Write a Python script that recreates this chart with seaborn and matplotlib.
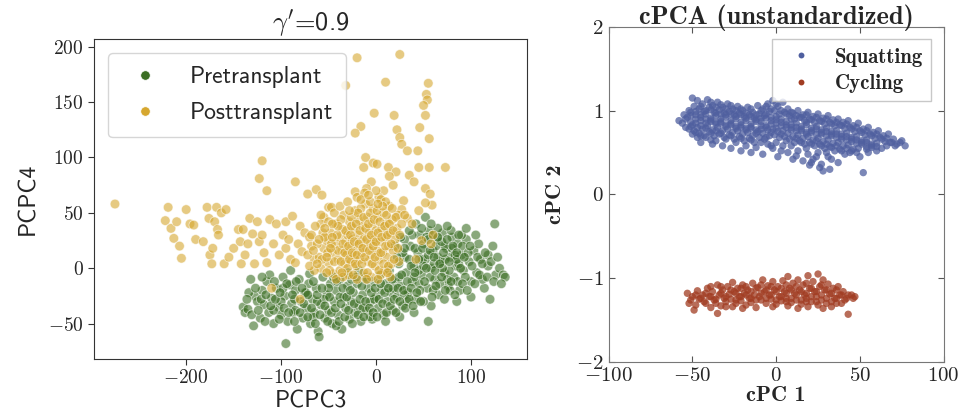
import numpy as np
import pandas as pd
import seaborn as sns
import matplotlib.pyplot as plt

# ---- data ----
# left panel: (PCPC3, PCPC4)
pre_pts = [
    (-140, -35), (-138, -40), (-135, -37), (-132, -10), (-128, -25), (-125, -30), (-122, -45), (-120, -20),
    (-118, -33), (-115, -12), (-113, -40), (-110, -27), (-108, -50), (-105, -18), (-103, -35), (-100, -42),
    (-98, -8), (-96, -25), (-95, -68), (-93, -48), (-91, -15), (-89, -32), (-87, -40), (-85, -20),
    (-83, -55), (-81, -10), (-79, -30), (-77, -45), (-75, -22), (-73, -36), (-71, -14), (-69, -50),
    (-67, -28), (-65, -40), (-63, -18), (-61, -57), (-60, -62), (-58, -33), (-56, -8), (-54, -45),
    (-52, -24), (-50, -38), (-48, -14), (-46, -50), (-44, -30), (-42, -20), (-40, -42), (-38, -10),
    (-36, -55), (-34, -26), (-32, -36), (-30, -16), (-28, -46), (-26, -30), (-24, -22), (-22, -40),
    (-20, -14), (-18, -34), (-16, -48), (-14, -24), (-12, -8), (-10, -38), (-8, -18), (-6, -30),
    (-4, -46), (-2, -12), (0, -26), (2, -36), (4, -6), (6, -20), (8, -42), (10, -14),
    (12, -30), (14, -2), (16, -22), (18, -38), (20, -10), (22, -26), (24, 4), (26, -16),
    (28, -34), (30, 10), (32, -4), (34, -22), (36, 20), (38, -12), (40, 2), (42, -28),
    (44, 14), (46, 30), (48, -6), (50, 22), (52, 8), (54, -18), (56, 34), (58, 0),
    (60, 16), (62, -10), (64, 26), (66, -24), (68, 6), (70, 32), (72, -4), (74, 18),
    (76, -16), (78, 10), (80, 28), (82, -8), (84, 2), (86, 22), (88, -20), (90, 12),
    (92, -2), (95, 26), (98, 6), (100, -12), (103, 16), (106, -4), (110, 8), (114, -18),
    (118, 2), (120, -28), (123, 20), (126, -6), (130, 0), (134, -6), (136, -8), (125, 40),
    (118, 12), (108, 22), (112, -10), (-129, -52), (-112, -6), (-90, -2), (-70, -5), (-100, -30),
    (-85, -38), (-66, -44), (-55, -28), (-42, -52), (-30, -4), (-18, -2), (-6, -44), (10, -48),
    (25, -44), (40, -40), (58, -34), (72, -28), (85, -30), (100, -26), (55, -48), (30, -24),
    (45, -14), (60, -20), (75, -10), (50, -30), (65, 10), (80, 18), (35, 8), (38, 30),
    (42, 40), (52, 46), (30, 26), (60, 30), (72, 20), (90, 30), (86, -12), (18, -18),
    (-2, -28), (-14, -36), (-26, -10), (-38, -26), (-50, -18), (-62, -30), (-74, -22), (-86, -28),
    (-98, -18), (-108, -38), (-120, -8), (-134, -22), (24, -8), (28, 14), (33, -30), (37, 2),
    (41, 18), (46, -20), (49, 8), (53, 28), (57, -8), (61, 4), (63, 20), (67, -14),
    (69, 24), (73, 8), (77, -2), (79, 34), (83, 12), (87, 4), (91, 20), (94, -8),
    (97, 14), (65, 36), (45, -2), (55, 12), (70, 0), (85, 8), (40, -8), (50, 2),
    (62, -2), (78, -20),
    (-136, -28), (-131, -42), (-127, -18), (-124, -38), (-121, -28), (-117, -48), (-116, -24), (-111, -34),
    (-107, -12), (-106, -28), (-102, -46), (-101, -22), (-97, -36), (-94, -14), (-92, -40), (-88, -24),
    (-86, -48), (-84, -12), (-80, -40), (-78, -18), (-76, -32), (-72, -44), (-72, -24), (-68, -36),
    (-66, -12), (-64, -50), (-62, -24), (-59, -42), (-57, -18), (-54, -34), (-51, -48), (-49, -26),
    (-47, -40), (-45, -8), (-43, -36), (-41, -12), (-39, -48), (-37, -32), (-35, -18), (-33, -44),
    (-31, -26), (-29, -38), (-27, -20), (-25, -50), (-23, -32), (-21, -8), (-19, -42), (-17, -28),
    (-15, -16), (-13, -44), (-11, -30), (-9, -10), (-7, -36), (-5, -22), (-3, -40), (-1, -18),
    (1, -44), (3, -28), (5, -14), (7, -32), (9, -22), (11, -40), (13, -18), (15, -34),
    (17, -10), (19, -28), (21, -40), (23, -18), (25, -30), (27, -6), (29, -20), (31, -36),
    (33, -12), (35, -28), (37, -18), (39, -34), (41, -4), (43, -22), (45, 8), (47, -30),
    (49, 18), (51, -12), (53, 0), (55, 26), (57, 16), (59, -26), (61, 10), (63, -16),
    (65, 28), (67, 4), (69, -8), (71, 14), (73, -20), (75, 26), (77, 6), (79, -12),
    (81, 20), (83, -24), (85, 14), (87, 30), (89, 0), (91, -14), (93, 10), (96, -20),
    (99, 20), (101, 2), (104, -14), (107, 10), (109, -6), (112, 4), (115, 14), (117, -8),
    (121, 6), (124, -12), (128, 10), (132, -14), (105, 30), (95, 36), (75, 38), (58, 40),
    (48, 36), (35, 34), (30, 18), (26, 28), (22, 10), (20, 20),
]

post_pts = [
    (-275, 58), (-222, 43), (-219, 55), (-216, 36), (-213, 27), (-210, 42), (-207, 20), (-205, 9),
    (-200, 53), (-196, 40), (-192, 39), (-190, 26), (-182, 24), (-178, 55), (-176, 45), (-175, 12),
    (-173, 4), (-172, 18), (-170, 42), (-168, 55), (-167, 35), (-166, 30), (-163, 50), (-160, 4),
    (-158, 53), (-155, 10), (-150, 18), (-145, 35), (-143, 24), (-142, 4), (-140, 35), (-138, 12),
    (-135, 22), (-133, 45), (-130, 31), (-128, 4), (-125, 42), (-123, 24), (-120, 30), (-118, 14),
    (-115, 5), (-112, 44), (-108, 22), (-105, 40), (-102, 12), (-98, 30), (-95, 18), (-92, 26),
    (-90, 8), (-120, 97), (-123, 81), (-115, 70), (-85, 78), (-72, 67), (-63, 71), (-57, 66),
    (-50, 55), (-47, 55), (-55, 46), (-58, 40), (-95, 42), (-88, 47), (-80, 38), (-75, 32),
    (-70, 28), (-82, 22), (-78, 15), (-68, 20), (-65, 8), (-85, 5), (-110, -18), (-80, -28),
    (-20, 190), (25, 193), (-32, 165), (10, 168), (55, 167), (53, 157), (54, 152), (50, 147),
    (52, 138), (-2, 140), (19, 138), (-16, 128), (-22, 122), (22, 125), (46, 127), (25, 118),
    (27, 112), (56, 117), (33, 106), (44, 106), (-11, 100), (-3, 95), (-13, 91), (1, 94),
    (13, 91), (21, 87), (45, 91), (56, 91), (73, 91), (35, 84), (40, 78), (52, 72),
    (57, 67), (59, 57), (29, 61), (45, 52), (52, 59), (14, 83), (18, 75), (8, 70),
    (-5, 78), (-22, 69), (-10, 72), (3, 64), (27, 53), (33, 45), (38, 40), (23, 48),
    (60, 30), (58, 22), (42, 8), (48, 25),
    (-60, 10), (-58, 0), (-55, 18), (-52, 25), (-50, 5), (-48, 32), (-46, 14), (-45, -5),
    (-43, 22), (-42, 40), (-40, 8), (-39, 28), (-38, -2), (-36, 16), (-35, 35), (-34, 48),
    (-33, 4), (-32, 24), (-31, 12), (-30, 30), (-29, -6), (-28, 42), (-27, 18), (-26, 6),
    (-25, 26), (-24, 36), (-23, 12), (-22, 52), (-21, 2), (-20, 20), (-19, 30), (-18, 44),
    (-17, 8), (-16, 24), (-15, 14), (-14, 38), (-13, -4), (-12, 28), (-11, 58), (-10, 18),
    (-9, 46), (-8, 6), (-7, 32), (-6, 22), (-5, 12), (-4, 40), (-3, 54), (-2, 26),
    (-1, 2), (0, 34), (1, 16), (2, 46), (3, 8), (4, 24), (5, 62), (6, 36),
    (7, 14), (8, 50), (9, -2), (10, 28), (11, 40), (12, 10), (13, 20), (14, 56),
    (15, 32), (16, 4), (17, 44), (18, 16), (20, 26), (22, 36), (24, 6), (-44, 50),
    (-38, 56), (-30, 60), (-20, 64), (-12, 68), (0, 70), (-50, 42), (-56, 32), (-62, 22),
    (-65, -2), (-35, -8), (-20, -10), (-5, -8), (5, -6), (15, -8), (-26, 46), (-16, 54),
    (-6, 60), (10, 60), (-42, -10),
    (-57, 8), (-54, 28), (-51, 14), (-49, -2), (-47, 22), (-44, 6), (-41, 30), (-40, 16),
    (-37, 44), (-37, 6), (-35, 22), (-33, 14), (-32, 34), (-30, 0), (-29, 20), (-28, 8),
    (-27, 30), (-26, 38), (-25, 14), (-23, 24), (-22, 4), (-21, 40), (-20, 12), (-19, 50),
    (-18, 22), (-17, 34), (-15, 4), (-14, 18), (-13, 46), (-12, 10), (-11, 36), (-10, 26),
    (-9, -4), (-8, 40), (-7, 16), (-6, 50), (-5, 30), (-4, 4), (-3, 20), (-2, 44),
    (-1, 10), (0, 24), (1, 52), (2, 32), (3, -2), (4, 42), (5, 14), (6, 28),
    (7, 56), (8, 4), (9, 38), (10, 20), (11, 48), (12, 30), (13, 2), (14, 40),
    (16, 22), (17, 54), (18, 34), (19, 8), (21, 46), (23, 18), (25, 30), (27, 40),
    (30, 48), (-16, 62), (-8, 66), (2, 58), (-28, 52), (-40, 38), (-46, 40), (-52, -4),
    (-36, -4), (-24, -6), (-10, -10), (2, -10), (12, -4),
    (-72, 12), (-70, 2), (-68, 30), (-66, 16), (-64, 38), (-62, 4), (-60, 26), (-58, 48),
    (-54, 36), (-52, 10), (-48, 18), (-46, 28),
]

# right panel: (cPC 1, cPC 2)
squat_pts = [
    (-58, 0.88), (-55, 0.95), (-56, 0.85), (-54, 0.80),
    (-52, 1.00), (-53, 0.92), (-51, 0.86), (-52, 0.78), (-50, 0.72),
    (-50, 1.15), (-49, 1.05), (-51, 0.98), (-48, 0.90), (-50, 0.83), (-49, 0.76), (-47, 0.68),
    (-47, 1.12), (-46, 1.02), (-48, 0.95), (-45, 0.88), (-47, 0.80), (-46, 0.73), (-45, 0.62),
    (-44, 1.08), (-43, 0.99), (-45, 0.92), (-42, 0.85), (-44, 0.78), (-43, 0.70),
    (-41, 1.13), (-40, 1.04), (-42, 0.96), (-39, 0.89), (-41, 0.82), (-40, 0.75), (-39, 0.65),
    (-38, 1.06), (-37, 0.98), (-39, 0.91), (-36, 0.84), (-38, 0.77), (-37, 0.70), (-38, 0.60),
    (-35, 1.10), (-34, 1.01), (-36, 0.94), (-33, 0.87), (-35, 0.80), (-34, 0.72),
    (-32, 1.04), (-31, 0.97), (-33, 0.90), (-30, 0.83), (-32, 0.76), (-31, 0.68), (-32, 0.58),
    (-29, 1.08), (-28, 0.99), (-30, 0.92), (-27, 0.85), (-29, 0.78), (-28, 0.71),
    (-26, 1.02), (-25, 0.95), (-27, 0.88), (-24, 0.81), (-26, 0.74), (-25, 0.66), (-27, 0.55),
    (-23, 1.05), (-22, 0.97), (-24, 0.90), (-21, 0.83), (-23, 0.76), (-22, 0.69),
    (-20, 1.00), (-19, 0.93), (-21, 0.86), (-18, 0.79), (-20, 0.72), (-19, 0.64), (-21, 0.52),
    (-17, 1.04), (-16, 0.95), (-18, 0.88), (-15, 0.81), (-17, 0.74), (-16, 0.67),
    (-14, 0.98), (-13, 0.91), (-15, 0.84), (-12, 0.77), (-14, 0.70), (-13, 0.62), (-15, 0.50),
    (-11, 1.06), (-10, 0.96), (-12, 0.89), (-9, 0.82), (-11, 0.75), (-10, 0.68),
    (-8, 1.02), (-7, 0.94), (-9, 0.87), (-6, 0.80), (-8, 0.73), (-7, 0.66), (-8, 0.48),
    (-5, 1.08), (-4, 0.99), (-6, 0.91), (-3, 0.84), (-5, 0.77), (-4, 0.70), (-5, 0.60),
    (-2, 1.12), (-1, 1.00), (-3, 0.92), (0, 0.85), (-2, 0.78), (-1, 0.71), (-2, 0.55),
    (1, 1.05), (2, 0.96), (0, 0.89), (3, 0.82), (1, 0.75), (2, 0.68), (1, 0.45),
    (4, 1.10), (5, 0.98), (3, 0.90), (6, 0.83), (4, 0.76), (5, 0.69), (4, 0.58),
    (7, 1.02), (8, 0.94), (6, 0.87), (9, 0.80), (7, 0.73), (8, 0.66), (7, 0.50),
    (10, 0.97), (11, 0.90), (9, 0.83), (12, 0.76), (10, 0.69), (11, 0.62), (10, 0.42),
    (13, 1.00), (14, 0.92), (12, 0.85), (15, 0.78), (13, 0.71), (14, 0.64), (13, 0.52),
    (16, 0.95), (17, 0.88), (15, 0.81), (18, 0.74), (16, 0.67), (17, 0.60), (16, 0.40),
    (19, 0.98), (20, 0.90), (18, 0.83), (21, 0.76), (19, 0.69), (20, 0.62), (19, 0.48), (20, 0.35),
    (22, 0.93), (23, 0.86), (21, 0.79), (24, 0.72), (22, 0.65), (23, 0.58), (22, 0.42),
    (25, 0.96), (26, 0.88), (24, 0.81), (27, 0.74), (25, 0.67), (26, 0.60), (25, 0.50), (26, 0.32),
    (28, 0.91), (29, 0.84), (27, 0.77), (30, 0.70), (28, 0.63), (29, 0.55), (28, 0.28),
    (31, 0.94), (32, 0.86), (30, 0.79), (33, 0.72), (31, 0.65), (32, 0.57), (31, 0.45), (32, 0.30),
    (34, 0.89), (35, 0.82), (33, 0.75), (36, 0.68), (34, 0.61), (35, 0.52),
    (37, 0.90), (38, 0.83), (36, 0.76), (39, 0.69), (37, 0.62), (38, 0.54), (37, 0.38),
    (40, 0.86), (41, 0.79), (39, 0.72), (42, 0.65), (40, 0.58), (41, 0.48),
    (43, 0.88), (44, 0.80), (42, 0.73), (45, 0.66), (43, 0.59), (44, 0.50),
    (46, 0.82), (47, 0.75), (45, 0.68), (48, 0.61), (46, 0.54),
    (49, 0.85), (50, 0.76), (48, 0.69), (51, 0.62), (49, 0.55), (50, 0.45),
    (52, 0.78), (53, 0.71), (51, 0.64), (54, 0.57), (52, 0.26),
    (55, 0.80), (56, 0.72), (54, 0.65), (57, 0.58), (55, 0.50),
    (58, 0.74), (59, 0.67), (57, 0.60), (60, 0.52),
    (61, 0.76), (62, 0.68), (60, 0.61),
    (64, 0.70), (65, 0.63), (63, 0.55),
    (67, 0.72), (68, 0.62), (70, 0.66), (71, 0.58), (74, 0.62), (77, 0.58),
    (-54, 0.90), (-51, 0.94), (-51, 0.81), (-48, 0.99), (-48, 0.85), (-48, 0.74), (-45, 1.05), (-45, 0.95),
    (-45, 0.82), (-45, 0.70), (-42, 1.00), (-42, 0.90), (-42, 0.79), (-42, 0.68), (-39, 1.10), (-39, 1.01),
    (-39, 0.87), (-39, 0.73), (-36, 1.04), (-36, 0.97), (-36, 0.86), (-36, 0.76), (-36, 0.64), (-33, 1.07),
    (-33, 0.96), (-33, 0.85), (-33, 0.73), (-30, 1.02), (-30, 0.95), (-30, 0.81), (-30, 0.66), (-27, 1.06),
    (-27, 0.96), (-27, 0.83), (-27, 0.70), (-24, 1.00), (-24, 0.93), (-24, 0.79), (-24, 0.62), (-21, 1.02),
    (-21, 0.95), (-21, 0.80), (-21, 0.67), (-18, 0.97), (-18, 0.91), (-18, 0.77), (-18, 0.58), (-15, 1.02),
    (-15, 0.93), (-15, 0.79), (-15, 0.65), (-12, 0.95), (-12, 0.87), (-12, 0.73), (-12, 0.56), (-9, 1.00),
    (-9, 0.91), (-9, 0.78), (-9, 0.62), (-6, 1.05), (-6, 0.96), (-6, 0.82), (-6, 0.68), (-3, 1.02),
    (-3, 0.88), (-3, 0.74), (-3, 0.58), (0, 1.08), (0, 0.93), (0, 0.79), (0, 0.62), (3, 1.00),
    (3, 0.86), (3, 0.72), (3, 0.52), (6, 0.96), (6, 0.80), (6, 0.64), (9, 0.98), (9, 0.90),
    (9, 0.77), (9, 0.58), (12, 0.94), (12, 0.80), (12, 0.67), (12, 0.46), (15, 0.92), (15, 0.76),
    (15, 0.62), (18, 0.95), (18, 0.86), (18, 0.72), (18, 0.55), (21, 0.89), (21, 0.74), (21, 0.60),
    (21, 0.38), (24, 0.92), (24, 0.78), (24, 0.64), (24, 0.45), (27, 0.87), (27, 0.72), (27, 0.58),
    (27, 0.36), (30, 0.90), (30, 0.75), (30, 0.60), (30, 0.50), (33, 0.84), (33, 0.70), (33, 0.56),
    (33, 0.42), (36, 0.86), (36, 0.72), (36, 0.58), (39, 0.82), (39, 0.66), (39, 0.52), (42, 0.84),
    (42, 0.69), (42, 0.55), (45, 0.78), (45, 0.63), (45, 0.52), (48, 0.80), (48, 0.65), (48, 0.50),
    (51, 0.74), (51, 0.60), (54, 0.76), (54, 0.62), (54, 0.54), (57, 0.70), (57, 0.56), (60, 0.72),
    (60, 0.57), (63, 0.66), (66, 0.67), (66, 0.58), (69, 0.62), (72, 0.60), (75, 0.64),
]

cycle_pts = [
    (-53, -1.18), (-52, -1.30), (-50, -1.22), (-49, -1.38), (-47, -1.15), (-46, -1.25), (-48, -1.32),
    (-44, -1.20), (-43, -1.28), (-41, -1.12), (-40, -1.22), (-42, -1.30), (-38, -1.16), (-37, -1.26),
    (-39, -1.35), (-35, -1.08), (-34, -1.20), (-36, -1.30), (-35, -1.42), (-32, -1.14), (-31, -1.24),
    (-33, -1.33), (-29, -1.10), (-28, -1.19), (-30, -1.28), (-26, -1.05), (-25, -1.16), (-27, -1.25),
    (-26, -1.34), (-23, -1.12), (-22, -1.22), (-24, -1.30), (-20, -1.08), (-19, -1.18), (-21, -1.27),
    (-20, -1.36), (-17, -1.14), (-16, -1.24), (-18, -1.32), (-14, -1.06), (-13, -1.20), (-15, -1.29),
    (-11, -1.11), (-10, -1.22), (-12, -1.35), (-8, -1.02), (-7, -1.16), (-9, -1.26), (-5, -1.09),
    (-4, -1.20), (-6, -1.30), (-2, -1.04), (-1, -1.14), (-3, -1.25), (-2, -1.34), (1, -1.10),
    (2, -1.22), (0, -1.31), (4, -1.03), (5, -1.16), (3, -1.27), (7, -0.98), (8, -1.12),
    (6, -1.24), (7, -1.33), (10, -1.06), (11, -1.18), (9, -1.29), (13, -1.02), (14, -1.14),
    (12, -1.26), (13, -1.36), (16, -1.08), (17, -1.20), (15, -1.31), (19, -0.97), (20, -1.12),
    (18, -1.24), (19, -1.34), (22, -1.04), (23, -1.16), (21, -1.28), (25, -0.95), (26, -1.10),
    (24, -1.22), (25, -1.32), (28, -1.02), (29, -1.14), (27, -1.26), (28, -1.36), (31, -1.07),
    (32, -1.19), (30, -1.30), (34, -1.12), (35, -1.24), (33, -1.34), (37, -1.10), (38, -1.20),
    (36, -1.30), (40, -1.16), (41, -1.26), (43, -1.20), (43, -1.43), (46, -1.24),
    (-51, -1.26), (-48, -1.20), (-45, -1.24), (-42, -1.18), (-39, -1.22), (-39, -1.10), (-36, -1.25),
    (-33, -1.18), (-33, -1.10), (-30, -1.22), (-30, -1.34), (-27, -1.14), (-24, -1.18), (-24, -1.26),
    (-21, -1.12), (-21, -1.22), (-18, -1.20), (-18, -1.10), (-15, -1.16), (-15, -1.24), (-12, -1.12),
    (-12, -1.26), (-9, -1.18), (-9, -1.08), (-6, -1.14), (-6, -1.24), (-3, -1.10), (-3, -1.20),
    (0, -1.16), (0, -1.26), (3, -1.12), (3, -1.22), (6, -1.08), (6, -1.18), (6, -1.28),
    (9, -1.14), (9, -1.24), (12, -1.10), (12, -1.20), (15, -1.16), (15, -1.26), (18, -1.06),
    (18, -1.18), (18, -1.28), (21, -1.12), (21, -1.22), (24, -1.16), (24, -1.28), (27, -1.08),
    (27, -1.20), (30, -1.14), (30, -1.24), (33, -1.18), (33, -1.28), (36, -1.14), (36, -1.24),
    (39, -1.20), (39, -1.30), (42, -1.24), (45, -1.20), (47, -1.22),
]

groups_left = ["Pretransplant", "Posttransplant"]
groups_right = ["Squatting", "Cycling"]

left_df = pd.concat([
    pd.DataFrame(pre_pts, columns=["PCPC3", "PCPC4"]).assign(group=groups_left[0]),
    pd.DataFrame(post_pts, columns=["PCPC3", "PCPC4"]).assign(group=groups_left[1]),
], ignore_index=True)
right_df = pd.concat([
    pd.DataFrame(squat_pts, columns=["cPC1", "cPC2"]).assign(group=groups_right[0]),
    pd.DataFrame(cycle_pts, columns=["cPC1", "cPC2"]).assign(group=groups_right[1]),
], ignore_index=True)

sns.set_style("ticks")
plt.rcParams['font.family'] = ['cmr10', 'DejaVu Serif']
plt.rcParams['mathtext.fontset'] = 'cm'
plt.rcParams['axes.formatter.use_mathtext'] = True
plt.rcParams['axes.unicode_minus'] = True

fig = plt.figure(figsize=(9.6, 4.19), dpi=100)
ax1 = fig.add_axes([0.098, 0.143, 0.451, 0.764])
ax2 = fig.add_axes([0.634, 0.136, 0.349, 0.800])

# left panel
sns.scatterplot(data=left_df, x="PCPC3", y="PCPC4", hue="group", hue_order=groups_left,
                palette=["#3b6e23", "#d6a72f"], s=48, alpha=0.6, edgecolor="white",
                linewidth=0.6, ax=ax1)
ax1.set_xlim(-297, 159)
ax1.set_ylim(-82, 207)
ax1.set_xticks([-200, -100, 0, 100])
ax1.set_yticks([-50, 0, 50, 100, 150, 200])
ax1.tick_params(labelsize=14, length=4, color="#333333")
ax1.set_xlabel("PCPC3", family="cmss10", fontsize=17, labelpad=2)
ax1.set_ylabel("PCPC4", family="cmss10", fontsize=17, labelpad=6)
ax1.set_title(r"$\gamma'$=0.9", family="cmss10", fontsize=19, pad=4)
for sp in ax1.spines.values():
    sp.set_color("#333333")
leg1 = ax1.legend(loc="upper left", prop={"family": "cmss10", "size": 17},
                  markerscale=1.0, handletextpad=0.9, borderpad=0.55, labelspacing=0.6,
                  borderaxespad=0.6)
for h in leg1.legend_handles:
    h.set_alpha(1)

# right panel
sns.scatterplot(data=right_df, x="cPC1", y="cPC2", hue="group", hue_order=groups_right,
                palette=["#4f5f9f", "#a13c22"], s=28, alpha=0.75, edgecolor="none", ax=ax2)
ax2.set_xlim(-100, 100)
ax2.set_ylim(-2, 2)
ax2.set_xticks([-100, -50, 0, 50, 100])
ax2.set_yticks([-2, -1, 0, 1, 2])
ax2.tick_params(direction="in", top=True, right=True, labelsize=15, length=4, color="#555555")
ax2.set_xlabel("cPC 1", family="cmb10", fontsize=16, labelpad=1)
ax2.set_ylabel("cPC 2", family="cmb10", fontsize=16, labelpad=8)
ax2.set_title("cPCA (unstandardized)", family="cmb10", fontsize=19, pad=2)
for sp in ax2.spines.values():
    sp.set_color("#777777")
leg2 = ax2.legend(loc="upper right", prop={"family": "cmb10", "size": 15},
                  fancybox=False, edgecolor="#bbbbbb", markerscale=0.8,
                  handletextpad=0.6, borderaxespad=0.6, borderpad=0.4, labelspacing=0.35)
for h in leg2.legend_handles:
    h.set_alpha(1)

fig.savefig("out.png", dpi=100)
